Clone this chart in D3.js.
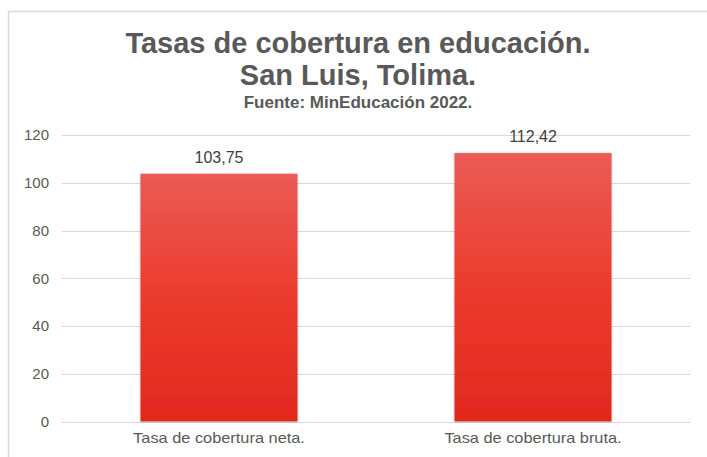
<!DOCTYPE html>
<html><head><meta charset="utf-8">
<script src="https://cdn.jsdelivr.net/npm/d3@7"></script>
<style>body{margin:0;background:#fff}svg{display:block}</style>
</head><body>
<svg id="c" width="707" height="457"></svg>
<script>
const categories = ["Tasa de cobertura neta.", "Tasa de cobertura bruta."];
const values = [103.75, 112.42];
const valueLabels = ["103,75", "112,42"];
const yTicks = [0, 20, 40, 60, 80, 100, 120];
const titleLines = ["Tasas de cobertura en educación.", "San Luis, Tolima."];
const subtitle = "Fuente: MinEducación 2022.";

const svg = d3.select("#c");
const font = "'Liberation Sans', Arial, sans-serif";
const m = {l: 62, r: 690, t: 135, b: 421.5};

// frame
svg.append("path").attr("d", "M8.5,457 V11.5 H707").attr("fill", "none").attr("stroke", "#d9d9d9").attr("stroke-width", 1.5);

const defs = svg.append("defs");
const g = defs.append("linearGradient").attr("id", "grad").attr("x1", 0).attr("y1", 0).attr("x2", 0).attr("y2", 1);
g.append("stop").attr("offset", "0%").attr("stop-color", "#eb5b56");
g.append("stop").attr("offset", "50%").attr("stop-color", "#ec3b2d");
g.append("stop").attr("offset", "100%").attr("stop-color", "#e0291e");
const f = defs.append("filter").attr("id", "sh").attr("x", "-10%").attr("y", "-10%").attr("width", "120%").attr("height", "120%");
f.append("feDropShadow").attr("dx", 0).attr("dy", 0).attr("stdDeviation", 1.2).attr("flood-color", "#000").attr("flood-opacity", 0.3);

const x = d3.scaleBand().domain(categories).range([m.l, m.r]).paddingInner(0.5).paddingOuter(0.25);
const y = d3.scaleLinear().domain([0, 120]).range([m.b, m.t]);

// gridlines
svg.append("g").selectAll("line").data(yTicks).join("line")
  .attr("x1", m.l).attr("x2", m.r)
  .attr("y1", d => Math.round(y(d)) + 0.5).attr("y2", d => Math.round(y(d)) + 0.5)
  .attr("stroke", "#d9d9d9").attr("stroke-width", 1);

// y axis labels
const yAxis = d3.axisLeft(y).tickValues(yTicks).tickSize(0).tickPadding(0);
const ya = svg.append("g").attr("transform", `translate(${m.l - 13},0)`).call(yAxis);
ya.select(".domain").remove();
ya.selectAll("text").attr("font-family", font).attr("font-size", 15).attr("fill", "#595959");

// bars
svg.append("g").selectAll("rect").data(values).join("rect")
  .attr("x", (d, i) => x(categories[i]))
  .attr("width", x.bandwidth())
  .attr("y", d => y(d))
  .attr("height", d => y(0) - y(d))
  .attr("fill", "url(#grad)")
  .attr("filter", "url(#sh)");

// value labels
svg.append("g").selectAll("text").data(values).join("text")
  .attr("x", (d, i) => x(categories[i]) + x.bandwidth() / 2)
  .attr("y", d => y(d) - 11)
  .attr("text-anchor", "middle")
  .attr("font-family", font).attr("font-size", 16).attr("fill", "#404040")
  .text((d, i) => valueLabels[i]);

// x axis labels
const xAxis = d3.axisBottom(x).tickSize(0).tickPadding(0);
const xa = svg.append("g").attr("transform", `translate(0,${m.b + 11})`).call(xAxis);
xa.select(".domain").remove();
xa.selectAll("text").attr("font-family", font).attr("font-size", 15).attr("fill", "#595959")
  .each(function() { const w = this.getComputedTextLength(); d3.select(this).attr("textLength", w * 1.09).attr("lengthAdjust", "spacingAndGlyphs"); });

// titles
const cx = 358;
svg.append("g").selectAll("text").data(titleLines).join("text")
  .attr("x", cx).attr("y", (d, i) => 53 + i * 32)
  .attr("text-anchor", "middle")
  .attr("font-family", font).attr("font-size", 29).attr("font-weight", "bold")
  .attr("fill", "#595959").text(d => d);
svg.append("text").attr("x", cx).attr("y", 108).attr("text-anchor", "middle")
  .attr("font-family", font).attr("font-size", 17).attr("font-weight", "bold")
  .attr("fill", "#595959").text(subtitle);
</script>
</body></html>
